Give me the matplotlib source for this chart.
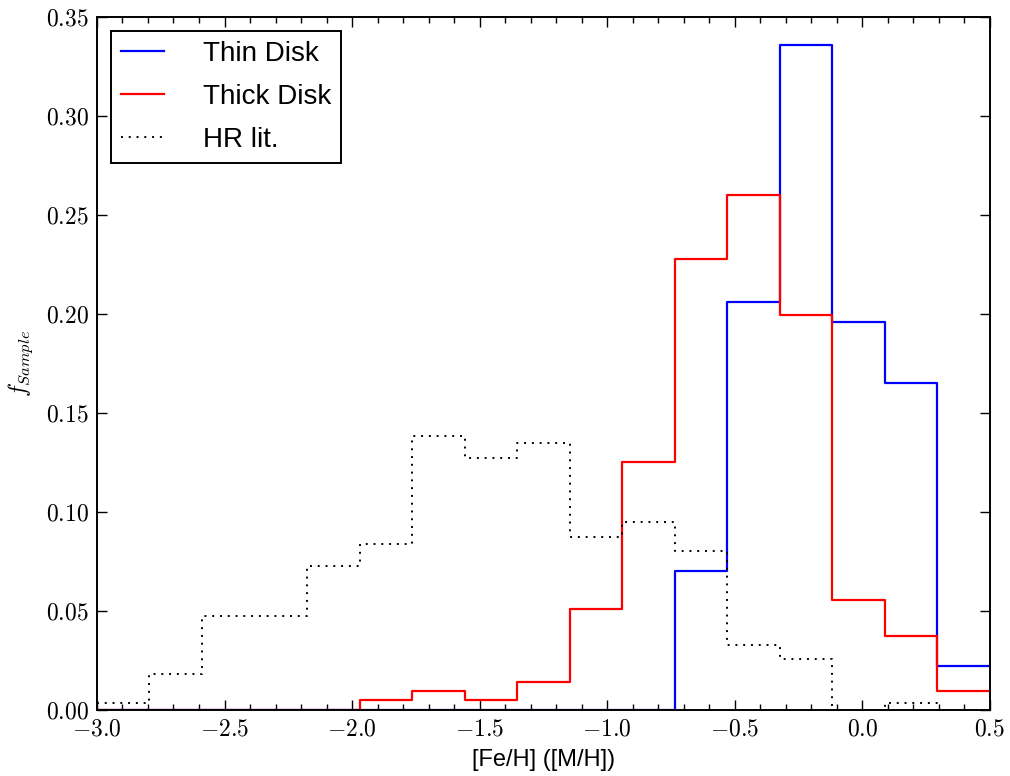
import numpy as np
import matplotlib
matplotlib.use('Agg')
import matplotlib.pyplot as plt
from matplotlib.ticker import MultipleLocator, FuncFormatter

# bin edges: 17 equal bins over [-3, 0.5]
edges = np.linspace(-3.0, 0.5, 18)

thin_disk = [0, 0, 0, 0, 0, 0, 0, 0, 0, 0, 0,
             0.070, 0.206, 0.336, 0.196, 0.165, 0.022]
thick_disk = [0, 0, 0, 0, 0, 0.0049, 0.0096, 0.0049, 0.0140, 0.0510, 0.1253,
              0.2276, 0.2600, 0.1997, 0.0557, 0.0372, 0.0094]
hr_lit = [0.0037, 0.0184, 0.0475, 0.0475, 0.0729, 0.0838, 0.1386, 0.1275, 0.1347,
          0.0874, 0.0948, 0.0803, 0.0330, 0.0258, 0, 0.0037, 0]

plt.rcParams['mathtext.fontset'] = 'cm'
plt.rcParams['font.family'] = ['Liberation Sans', 'DejaVu Sans']
plt.rcParams['xtick.direction'] = 'in'
plt.rcParams['ytick.direction'] = 'in'
plt.rcParams['xtick.top'] = True
plt.rcParams['ytick.right'] = True
plt.rcParams['axes.linewidth'] = 1.4


def stepped(vals):
    return np.append(vals, vals[-1])


fig = plt.figure(figsize=(10.1, 7.76), dpi=100)
ax = fig.add_axes([0.096, 0.085, 0.884, 0.893])

ax.step(edges, stepped(thin_disk), where='post', color='b', lw=1.6, label='Thin Disk')
ax.step(edges, stepped(thick_disk), where='post', color='r', lw=1.6, label='Thick Disk')
ax.step(edges, stepped(hr_lit), where='post', color='k', lw=1.4, ls=(0, (1, 3)), label='HR lit.')

ax.set_xlim(-3.0, 0.5)
ax.set_ylim(0, 0.35)
ax.xaxis.set_major_locator(MultipleLocator(0.5))
ax.xaxis.set_minor_locator(MultipleLocator(0.1))
ax.yaxis.set_major_locator(MultipleLocator(0.05))
ax.xaxis.set_major_formatter(FuncFormatter(lambda v, p: '$%.1f$' % v))
ax.yaxis.set_major_formatter(FuncFormatter(lambda v, p: '$%.2f$' % v))
ax.tick_params(which='major', length=7, width=1, labelsize=17, pad=6)
ax.tick_params(which='minor', length=4, width=1)

ax.set_xlabel('[Fe/H] ([M/H])', fontsize=17, labelpad=6)
ax.set_ylabel('$f_{Sample}$', fontsize=17, labelpad=8)

leg = ax.legend(loc='upper left', fontsize=20, fancybox=False, framealpha=1,
                edgecolor='k', handlelength=1.55, handletextpad=1.4, labelspacing=0.62,
                borderpad=0.35, borderaxespad=0.5)
leg.get_frame().set_linewidth(1.4)

fig.savefig('out.png', dpi=100, facecolor='white')
